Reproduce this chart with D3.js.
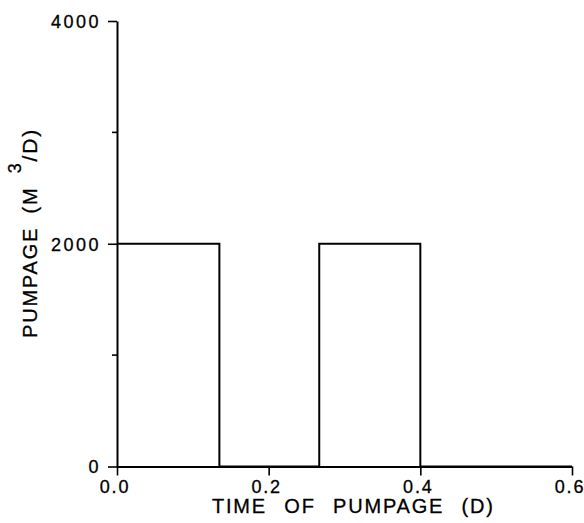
<!DOCTYPE html>
<html>
<head>
<meta charset="utf-8">
<style>
  body { margin: 0; background: #fff; }
  text { font-family: "Liberation Sans", Arial, sans-serif; fill: #000; stroke: #000; stroke-width: 0.3; }
</style>
</head>
<body>
<div id="container"></div>
<script src="https://cdn.jsdelivr.net/npm/d3@7"></script>
<script>
// pumpage schedule: rate holds from each time until the next one
const times = [0, 0.135, 0.2667, 0.4, 0.6];
const rates = [2000, 0, 2000, 0, 0];

const xTicks = [0, 0.2, 0.4, 0.6];
const yMajor = [0, 2000, 4000];
const yMinor = [1000, 3000];

const width = 584, height = 523;

const x = d3.scaleLinear().domain([0, 0.6]).range([117, 572]);
const y = d3.scaleLinear().domain([0, 4000]).range([466.5, 21]);

const svg = d3.create("svg")
    .attr("width", width)
    .attr("height", height)
    .style("display", "block");

svg.append("rect").attr("width", width).attr("height", height).attr("fill", "#fff");

// the step line
const pts = times.map((t, i) => [t, rates[i]]);
const line = d3.line()
    .x(d => x(d[0]))
    .y(d => y(d[1]))
    .curve(d3.curveStepAfter);

svg.append("path")
    .attr("d", line(pts))
    .attr("fill", "none")
    .attr("stroke", "#000")
    .attr("stroke-width", 2);

// x axis, ticks hang below
const xAxis = svg.append("g").attr("transform", `translate(0,${y(0)})`)
    .call(d3.axisBottom(x).tickValues(xTicks).tickSize(9).tickSizeOuter(0).tickFormat(d3.format(".1f")));
xAxis.select(".domain").attr("stroke-width", 2);
xAxis.selectAll(".tick line").attr("stroke-width", 1.6);
xAxis.selectAll(".tick text")
    .attr("font-size", 18)
    .attr("letter-spacing", 1.8)
    .attr("font-family", null)
    .attr("y", 26)
    .attr("dy", 0)
    .attr("dx", -2.5)
    .attr("fill", "#000");

// y axis, major and minor ticks pointing out
const yAxis = svg.append("g").attr("transform", `translate(${x(0)},0)`)
    .call(d3.axisLeft(y).tickValues(yMajor).tickSize(9).tickSizeOuter(0).tickFormat(d3.format("d")));
yAxis.select(".domain").attr("stroke-width", 2);
yAxis.selectAll(".tick line").attr("stroke-width", 1.6);
yAxis.selectAll(".tick text")
    .attr("font-size", 18)
    .attr("letter-spacing", 2.5)
    .attr("font-family", null)
    .attr("x", -16)
    .attr("dy", "0.36em")
    .attr("fill", "#000");

svg.append("g").attr("transform", `translate(${x(0)},0)`)
  .selectAll("line").data(yMinor).join("line")
    .attr("x1", -5).attr("x2", 0)
    .attr("y1", d => y(d)).attr("y2", d => y(d))
    .attr("stroke", "#000")
    .attr("stroke-width", 1.6);

// axis titles
svg.append("text")
    .attr("x", 212)
    .attr("y", 513)
    .attr("font-size", 20)
    .attr("letter-spacing", 1.8)
    .attr("word-spacing", 10)
    .text("TIME OF PUMPAGE (D)");

const yt = svg.append("text")
    .attr("transform", "translate(37,338) rotate(-90)")
    .attr("font-size", 20)
    .attr("letter-spacing", 1.8)
    .attr("word-spacing", 6);
yt.append("tspan").text("PUMPAGE (M ");
yt.append("tspan").attr("dy", -16).attr("font-size", 18).text("3");
yt.append("tspan").attr("dy", 16).attr("font-size", 21).text("/D)");

document.getElementById("container").append(svg.node());
</script>
</body>
</html>
